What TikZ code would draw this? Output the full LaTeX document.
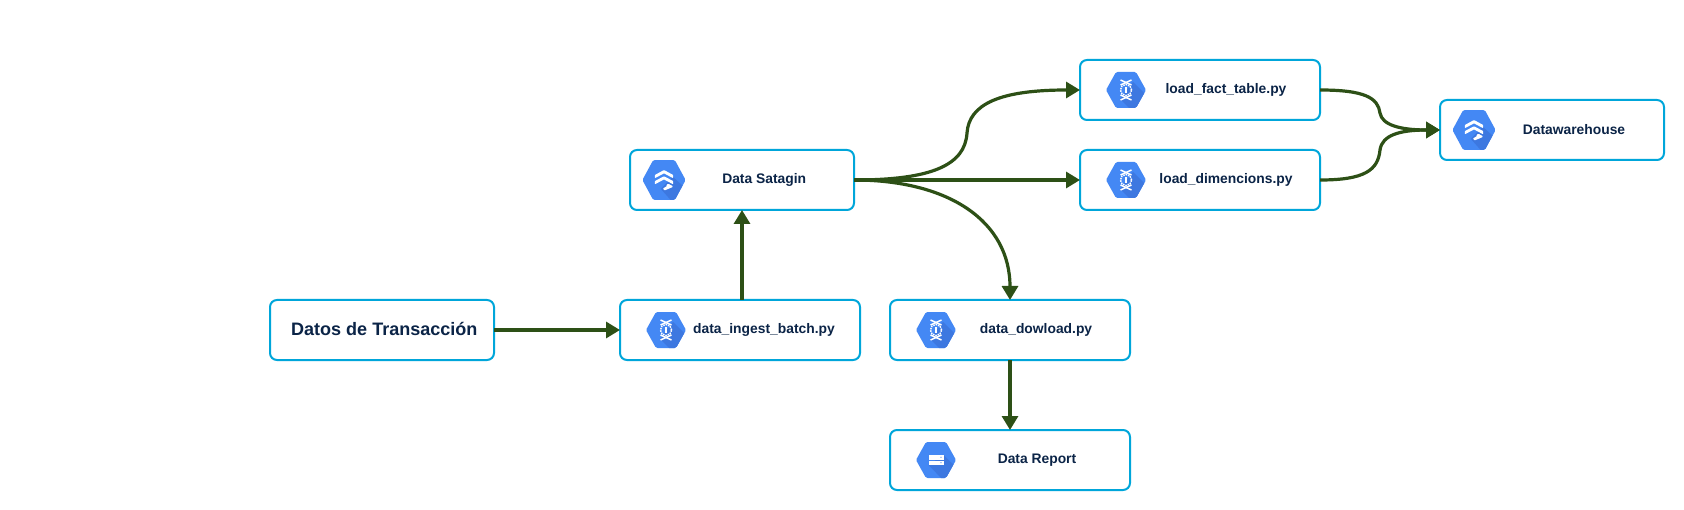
\documentclass[tikz,border=0pt]{standalone}
\usepackage{fontspec}
\setmainfont{Liberation Sans}
\usetikzlibrary{arrows.meta}
\definecolor{boxblue}{HTML}{00A6DA}
\definecolor{flowgreen}{HTML}{2D5016}
\definecolor{textnavy}{HTML}{0B2447}
\definecolor{hexblue}{HTML}{4488F4}
\definecolor{hexdark}{HTML}{3D78E0}
\newcommand{\hexpath}{(-20,0) -- (-10,-18) -- (10,-18) -- (20,0) -- (10,18) -- (-10,18) -- cycle}
\tikzset{
  card/.style={draw=boxblue,line width=2bp,rounded corners=7bp,fill=white,minimum width=#1,minimum height=60bp,inner sep=0,outer sep=0,anchor=north west},
  lbl/.style={text=textnavy,font=\fontsize{13.9}{15}\selectfont\bfseries,inner sep=0},
  bigl/.style={text=textnavy,font=\fontsize{18.1}{20}\selectfont\bfseries,inner sep=0},
  flow/.style={draw=flowgreen,line width=3.2bp,-{Triangle[length=14bp,width=16bp]}},
  pics/procicon/.style={code={
    \begin{scope}
      \clip[rounded corners=1.5bp] \hexpath;
      \fill[hexblue] (-22,-20) rectangle (22,20);
      \fill[hexdark] (7,-8) -- (24,9) -- (24,20) -- (5,20) -- (-6,9) -- cycle;
    \end{scope}
    \draw[white,line width=1.5bp] (-5.5,-10) -- (5.5,-5);
    \draw[white,line width=1.5bp] (5.5,-10) -- (-5.5,-5);
    \draw[white,line width=1.5bp] (-5.5,10) -- (5.5,5);
    \draw[white,line width=1.5bp] (5.5,10) -- (-5.5,5);
    \draw[white,line width=1.5bp,dash pattern=on 1.5bp off 1bp] (0,0) circle (5.6bp);
    \fill[white] (-1,-3.4) rectangle (1,-1.4);
    \fill[white] (-1,-1) rectangle (1,1);
    \fill[white] (-1,1.4) rectangle (1,3.4);
  }},
  pics/dataicon/.style={code={
    \begin{scope}
      \clip[rounded corners=1.5bp] \hexpath;
      \fill[hexblue] (-22,-20) rectangle (22,20);
      \fill[hexdark] (8,-3) -- (24,11) -- (24,20) -- (8,20) -- (-3,8) -- cycle;
    \end{scope}
    \fill[white,rounded corners=0.6bp] (0,-9) -- (8.5,-4.5) -- (8.5,-1.6) -- (0,-6) -- (-8.5,-1.6) -- (-8.5,-4.5) -- cycle;
    \fill[white,rounded corners=0.6bp] (0,-3.4) -- (8.5,1) -- (8.5,3.9) -- (0,-0.5) -- (-8.5,3.9) -- (-8.5,1) -- cycle;
    \fill[white,rounded corners=0.6bp] (4,3.4) -- (8,5.4) -- (8,6.4) -- (0.5,9.4) -- (-1,7.6) -- (2.6,5.6) -- (2.2,4.4) -- cycle;
  }},
  pics/storeicon/.style={code={
    \begin{scope}
      \clip[rounded corners=1.5bp] \hexpath;
      \fill[hexblue] (-22,-20) rectangle (22,20);
      \fill[hexdark] (7.5,-5) -- (24,11) -- (24,20) -- (7,20) -- (-7.5,5) -- cycle;
    \end{scope}
    \fill[white] (-7.5,-5) rectangle (7.5,-0.5);
    \fill[white] (-7.5,0.5) rectangle (7.5,5);
    \fill[hexblue] (5,-2.75) circle (0.7bp);
    \fill[hexblue] (5,2.75) circle (0.7bp);
  }}
}
\begin{document}
\begin{tikzpicture}[x=1bp,y=-1bp]
\useasboundingbox (0,0) rectangle (1684,510);
\fill[white] (0,0) rectangle (1684,510);
% boxes
\node[card=224bp] (datos) at (270,300) {};
\node[card=240bp] (ingest) at (620,300) {};
\node[card=240bp] (down) at (890,300) {};
\node[card=240bp] (report) at (890,430) {};
\node[card=224bp] (sat) at (630,150) {};
\node[card=240bp] (fact) at (1080,60) {};
\node[card=240bp] (dim) at (1080,150) {};
\node[card=224bp] (dw) at (1440,100) {};
% icons
\pic at (666,330) {procicon};
\pic at (936,330) {procicon};
\pic at (1126,90) {procicon};
\pic at (1126,180) {procicon};
\pic at (936,460) {storeicon};
\pic[xscale=1.08,yscale=1.11] at (664,180) {dataicon};
\pic[xscale=1.08,yscale=1.11] at (1474,130) {dataicon};
% labels
\node[bigl] (tdatos) at (384.3,328.5) {Datos de Transacción};
\node[lbl] (tingest) at (764,330) {data\_ingest\_batch.py};
\node[lbl] (tdown) at (1036,330) {data\_dowload.py};
\node[lbl] (treport) at (1037,460) {Data Report};
\node[lbl] (tsat) at (764.2,180) {Data Satagin};
\node[lbl] (tfact) at (1226,90) {load\_fact\_table.py};
\node[lbl] (tdim) at (1226,180) {load\_dimencions.py};
\node[lbl] (tdw) at (1574,130) {Datawarehouse};
% waypoints
\coordinate (w1) at (967,133);
\coordinate (w2) at (1380,113);
\coordinate (w3) at (1380,150);
% connectors
\draw[flow] (datos.east) -- (ingest.west);
\draw[flow] (ingest.north -| sat.south) -- (sat.south);
\draw[flow] (sat.east) -- (dim.west);
\draw[flow] (sat.east) .. controls +(78,0) and (965,165) .. (w1) .. controls (969,104) and (1000,90) .. (fact.west);
\draw[flow] (sat.east) .. controls +(96,0) and (1010,222) .. (down.north);
\draw[flow] (down.south) -- (report.north);
\draw[flow] (fact.east) .. controls +(45,0) and (1378,98) .. (w2) .. controls (1382,125) and (1400,130) .. (dw.west);
\draw[flow] (dim.east) .. controls +(45,0) and (1378,170) .. (w3) .. controls (1382,135) and (1400,130) .. (dw.west);
\end{tikzpicture}
\end{document}
